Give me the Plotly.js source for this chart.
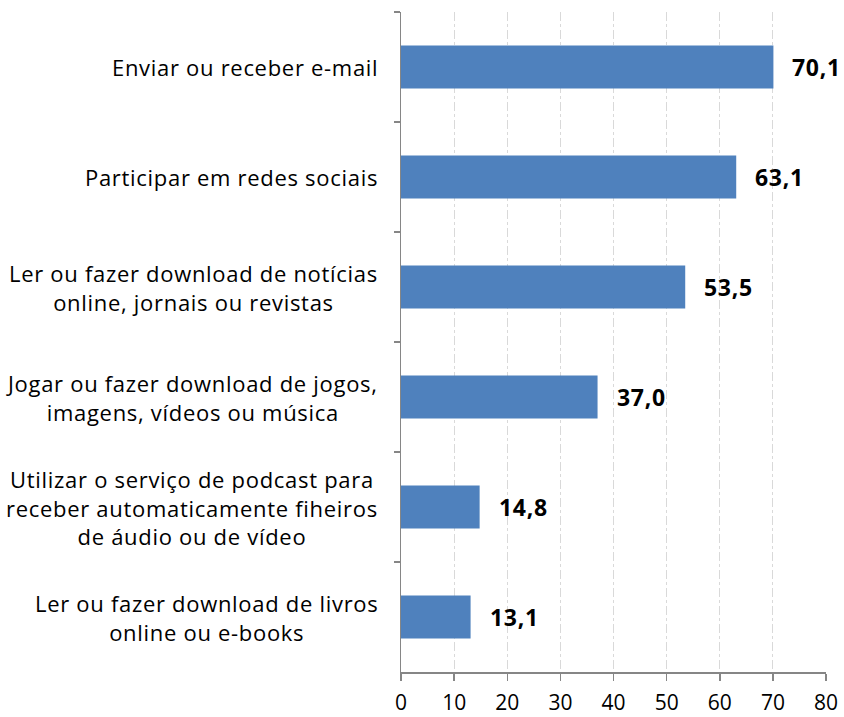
<!DOCTYPE html>
<html><head><meta charset="utf-8">
<script src="https://cdn.plot.ly/plotly-3.0.1.min.js"></script>
<style>body{margin:0;background:#fff}#chart{width:844px;height:717px}
.annotation-text{letter-spacing:0.7px}</style>
</head><body><div id="chart"></div>
<script>
const categories = [
  "Enviar ou receber e-mail",
  "Participar em redes sociais",
  "Ler ou fazer download de notícias<br>online, jornais ou revistas",
  "Jogar ou fazer download de jogos,<br>imagens, vídeos ou música",
  "Utilizar o serviço de podcast para<br>receber automaticamente fiheiros<br>de áudio ou de vídeo",
  "Ler ou fazer download de livros<br>online ou e-books"
];
const values = [70.1, 63.1, 53.5, 37.0, 14.8, 13.1];
const valueLabels = ["70,1", "63,1", "53,5", "37,0", "14,8", "13,1"];
const xTicks = [0, 10, 20, 30, 40, 50, 60, 70, 80];

const FONT = "'Open Sans', Lato, sans-serif";
const ids = categories.map((c, i) => "c" + i);

const annotations = [];
categories.forEach((c, i) => {
  annotations.push({
    xref: "paper", yref: "y", x: 0, y: ids[i], xshift: -21,
    xanchor: "right", yanchor: "middle", align: "center",
    text: c, showarrow: false,
    font: {family: FONT, size: 22, color: "#000"}
  });
  annotations.push({
    xref: "x", yref: "y", x: values[i], y: ids[i], xshift: 17,
    xanchor: "left", yanchor: "middle", text: "<b>" + valueLabels[i] + "</b>",
    showarrow: false, font: {family: FONT, size: 23, color: "#000"}
  });
});

const trace = {
  type: "bar", orientation: "h", x: values, y: ids,
  marker: {color: "#4F81BD", line: {width: 0}},
  hoverinfo: "none"
};

const layout = {
  width: 844, height: 717,
  margin: {l: 401, r: 18, t: 12, b: 45},
  paper_bgcolor: "#fff", plot_bgcolor: "#fff",
  bargap: 0.61,
  showlegend: false,
  xaxis: {
    range: [0, 80], tickvals: xTicks, ticktext: xTicks.map(String),
    showgrid: true, gridcolor: "#d9d9d9", gridwidth: 1, griddash: "dashdot",
    zeroline: false, showline: true, linecolor: "#868686", linewidth: 1.5,
    ticks: "outside", ticklen: 7, tickcolor: "#868686", tickwidth: 1.5,
    ticklabelstandoff: 4,
    tickfont: {family: FONT, size: 21, color: "#000"}, fixedrange: true
  },
  yaxis: {
    type: "category", autorange: "reversed", showticklabels: false,
    showgrid: false, zeroline: false, showline: true, linecolor: "#868686", linewidth: 1.5,
    ticks: "outside", tickson: "boundaries", ticklen: 6, tickcolor: "#868686", tickwidth: 1.5,
    fixedrange: true
  },
  annotations: annotations
};

Plotly.newPlot("chart", [trace], layout, {displayModeBar: false, staticPlot: true});
</script></body></html>
